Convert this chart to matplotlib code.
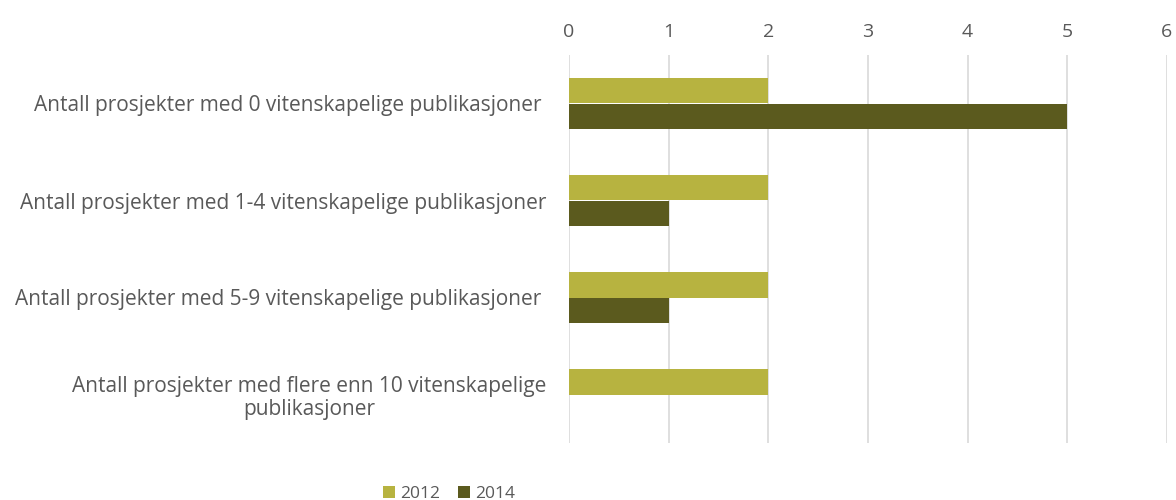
import matplotlib.pyplot as plt
import numpy as np

plt.rcParams['font.family'] = ['Open Sans', 'DejaVu Sans']

categories = ["Antall prosjekter med 0 vitenskapelige publikasjoner ",
              "Antall prosjekter med 1-4 vitenskapelige publikasjoner",
              "Antall prosjekter med 5-9 vitenskapelige publikasjoner ",
              "Antall prosjekter med flere enn 10 vitenskapelige\npublikasjoner"]
years = ["2012", "2014"]
values_2012 = [2, 2, 2, 2]
values_2014 = [5, 1, 1, 0]
xticks = [0, 1, 2, 3, 4, 5, 6]

col_2012 = "#B7B340"
col_2014 = "#5B5A1E"
txt = "#595959"
fs = 15

fig = plt.figure(figsize=(11.76, 5.0), dpi=100)
ax = fig.add_axes([0.4838, 0.114, 0.5085, 0.776])

y = np.arange(len(categories))
h = 0.26
ax.barh(y - h / 2, values_2012, height=h, color=col_2012, label=years[0], zorder=3)
ax.barh(y + h / 2, values_2014, height=h, color=col_2014, label=years[1], zorder=3)

ax.set_ylim(len(categories) - 0.5, -0.5)
ax.set_xlim(0, 6)
ax.set_xticks(xticks)
ax.set_xticklabels([str(t) for t in xticks])
ax.xaxis.tick_top()
ax.set_yticks(y)
ax.set_yticklabels(categories, multialignment="center", linespacing=1.15)
ax.tick_params(axis="both", length=0, colors=txt, labelsize=fs)
ax.tick_params(axis="x", pad=10, labelsize=14)
ax.tick_params(axis="y", pad=16)
ax.grid(axis="x", color="#D9D9D9", linewidth=1.2, zorder=0)
for s in ax.spines.values():
    s.set_visible(False)

fig.legend(loc="lower center", bbox_to_anchor=(0.382, -0.035), ncol=2, frameon=False,
           handlelength=0.7, handleheight=0.7, handletextpad=0.3, columnspacing=1.0,
           labelcolor=txt, fontsize=12.5)

plt.savefig("out.png", dpi=100)
